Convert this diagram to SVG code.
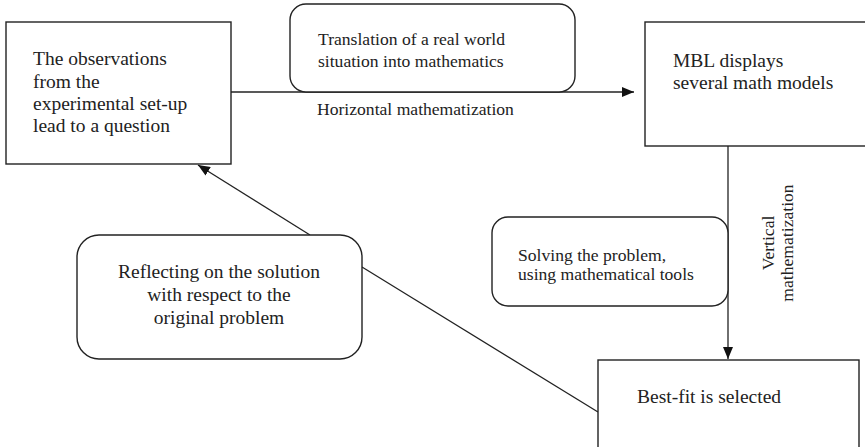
<svg xmlns="http://www.w3.org/2000/svg" width="865" height="447" viewBox="0 0 865 447">
<style>
.box{fill:#fff;stroke:#222;stroke-width:1.4}
.ln{fill:none;stroke:#222;stroke-width:1.3}
text{font-family:"Liberation Serif","Times New Roman",serif;fill:#222}
.l{font-size:19.5px}
.m{font-size:17.6px}
</style>
<defs>
<marker id="ah" viewBox="0 0 12 10" refX="12" refY="5" markerWidth="12" markerHeight="10" markerUnits="userSpaceOnUse" orient="auto">
<path d="M0,0 L12,5 L0,10 z" fill="#111"/>
</marker>
</defs>
<g id="connectors">
<line class="ln" x1="231" y1="92" x2="634" y2="92" marker-end="url(#ah)"/>
<line class="ln" x1="728" y1="146" x2="728" y2="359" marker-end="url(#ah)"/>
<line class="ln" x1="362" y1="267" x2="598" y2="412"/>
<line class="ln" x1="310" y1="235" x2="198" y2="165" marker-end="url(#ah)"/>
</g>
<g id="observations">
<rect class="box" x="6" y="22" width="225" height="142"/>
<text class="l" x="33" y="65">The observations</text>
<text class="l" x="33" y="88">from the</text>
<text class="l" x="33" y="110">experimental set-up</text>
<text class="l" x="33" y="132">lead to a question</text>
</g>
<g id="translation">
<rect class="box" x="290" y="4" width="285" height="88" rx="16"/>
<text class="m" x="318" y="45">Translation of a real world</text>
<text class="m" x="318" y="67">situation into mathematics</text>
</g>
<g id="horizontal-label">
<text class="m" x="317" y="115">Horizontal mathematization</text>
</g>
<g id="mbl">
<rect class="box" x="645" y="22" width="230" height="124"/>
<text class="l" x="673" y="67">MBL displays</text>
<text class="l" x="673" y="89">several math models</text>
</g>
<g id="solving">
<rect class="box" x="492" y="217" width="236" height="89" rx="16"/>
<text class="m" x="518" y="261">Solving the problem,</text>
<text class="m" x="518" y="280">using mathematical tools</text>
</g>
<g id="vertical-label">
<text class="m" transform="translate(774,243) rotate(-90)" text-anchor="middle">Vertical</text>
<text class="m" transform="translate(793,243) rotate(-90)" text-anchor="middle">mathematization</text>
</g>
<g id="bestfit">
<rect class="box" x="598" y="360" width="261" height="100"/>
<text class="l" x="637" y="403">Best-fit is selected</text>
</g>
<g id="reflecting">
<rect class="box" x="77" y="235" width="285" height="124" rx="22"/>
<text class="l" x="219" y="278" text-anchor="middle">Reflecting on the solution</text>
<text class="l" x="219" y="301" text-anchor="middle">with respect to the</text>
<text class="l" x="219" y="324" text-anchor="middle">original problem</text>
</g>
</svg>
